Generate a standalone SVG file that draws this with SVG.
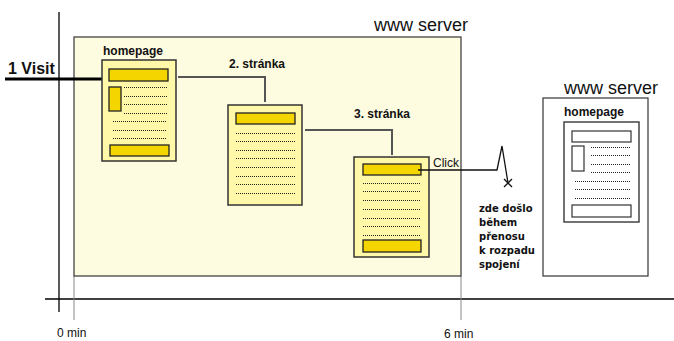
<svg xmlns="http://www.w3.org/2000/svg" width="674" height="341" viewBox="0 0 674 341">
<defs>
<style>
.ax{stroke:#000;stroke-width:1.3;fill:none}
.guide{stroke:#888;stroke-width:1;fill:none}
.doc{fill:#fff8a8;stroke:#333;stroke-width:1.5}
.bar{fill:#f5d500;stroke:#222;stroke-width:1.3}
.wdoc{fill:#fff;stroke:#444;stroke-width:1.5}
.wbar{fill:#fff;stroke:#333;stroke-width:1.2}
.dl{stroke:#222;stroke-width:1;stroke-dasharray:1 1;fill:none}
.conn{stroke:#555;stroke-width:2;fill:none}
.b{font-family:"Liberation Sans",Arial,sans-serif;font-weight:bold;fill:#111}
.r{font-family:"Liberation Sans",Arial,sans-serif;fill:#111}
.t{font-family:"DejaVu Sans",Verdana,sans-serif;font-weight:bold;fill:#111;font-size:10px}
</style>
</defs>
<rect width="674" height="341" fill="#fff"/>

<g id="axes">
<line class="ax" x1="59" y1="12" x2="59" y2="312"/>
<line class="ax" x1="45" y1="299" x2="674" y2="299"/>
<line class="guide" x1="74" y1="276" x2="74" y2="320"/>
<line class="guide" x1="461" y1="276" x2="461" y2="320"/>
<text class="r" x="57" y="337" font-size="12">0 min</text>
<text class="r" x="444" y="338" font-size="12">6 min</text>
</g>

<g id="server1">
<rect x="74" y="37" width="387" height="239" fill="#fdfbe0" stroke="#444" stroke-width="1.3"/>
<text class="r" x="468" y="31" font-size="18" text-anchor="end">www server</text>
</g>

<g id="visit">
<text class="b" x="8" y="74" font-size="16">1 Visit</text>
<line x1="5" y1="79" x2="102" y2="79" stroke="#000" stroke-width="3"/>
</g>

<g id="homepage1">
<text class="b" x="103" y="55" font-size="12">homepage</text>
<rect class="doc" x="102" y="60" width="74" height="101"/>
<rect class="bar" x="109" y="69" width="59" height="12"/>
<rect class="bar" x="109" y="87" width="12" height="24"/>
<line class="dl" x1="124" y1="87.5" x2="167" y2="87.5"/>
<line class="dl" x1="124" y1="96.5" x2="167" y2="96.5"/>
<line class="dl" x1="124" y1="104.5" x2="167" y2="104.5"/>
<line class="dl" x1="124" y1="113.5" x2="167" y2="113.5"/>
<line class="dl" x1="113" y1="121.5" x2="167" y2="121.5"/>
<line class="dl" x1="113" y1="130.5" x2="167" y2="130.5"/>
<line class="dl" x1="113" y1="138.5" x2="167" y2="138.5"/>
<rect class="bar" x="110" y="145" width="59" height="11"/>
</g>

<g id="page2">
<text class="b" x="229" y="68" font-size="12">2. stránka</text>
<rect class="doc" x="228" y="105" width="74" height="100"/>
<rect class="bar" x="236" y="113" width="59" height="11"/>
<line class="dl" x1="236" y1="133.5" x2="295" y2="133.5"/>
<line class="dl" x1="236" y1="141.5" x2="295" y2="141.5"/>
<line class="dl" x1="236" y1="150.5" x2="295" y2="150.5"/>
<line class="dl" x1="236" y1="158.5" x2="295" y2="158.5"/>
<line class="dl" x1="236" y1="167.5" x2="295" y2="167.5"/>
<line class="dl" x1="236" y1="176.5" x2="295" y2="176.5"/>
<line class="dl" x1="236" y1="184.5" x2="295" y2="184.5"/>
<line class="dl" x1="236" y1="193.5" x2="295" y2="193.5"/>
</g>

<g id="page3">
<text class="b" x="354" y="118" font-size="12">3. stránka</text>
<rect class="doc" x="354" y="157" width="75" height="100"/>
<rect class="bar" x="363" y="164" width="58" height="11"/>
<line class="dl" x1="363" y1="183.5" x2="421" y2="183.5"/>
<line class="dl" x1="363" y1="191.5" x2="421" y2="191.5"/>
<line class="dl" x1="363" y1="200.5" x2="421" y2="200.5"/>
<line class="dl" x1="363" y1="209.5" x2="421" y2="209.5"/>
<line class="dl" x1="363" y1="218.5" x2="421" y2="218.5"/>
<line class="dl" x1="363" y1="226.5" x2="421" y2="226.5"/>
<line class="dl" x1="363" y1="235.5" x2="421" y2="235.5"/>
<rect class="bar" x="363" y="240" width="58" height="12"/>
</g>

<g id="connectors">
<polyline class="conn" points="178,77 265,77 265,102"/>
<polyline class="conn" points="305,130 392,130 392,155"/>
<polyline points="418,170 497,170 502,146 508,183" fill="none" stroke="#111" stroke-width="1.3"/>
<path d="M504,179 L512,187 M512,179 L504,187" stroke="#111" stroke-width="1.3" fill="none"/>
<text class="r" x="433" y="167" font-size="12">Click</text>
</g>

<g id="note">
<text class="t" x="479" y="212">zde došlo</text>
<text class="t" x="479" y="226">během</text>
<text class="t" x="479" y="240">přenosu</text>
<text class="t" x="479" y="254">k rozpadu</text>
<text class="t" x="479" y="268">spojení</text>
</g>

<g id="server2">
<rect x="543" y="98" width="105" height="178" fill="#fff" stroke="#444" stroke-width="1.3"/>
<text class="r" x="658" y="94" font-size="18" text-anchor="end">www server</text>
</g>

<g id="homepage2">
<text class="b" x="564" y="116" font-size="12">homepage</text>
<rect class="wdoc" x="564" y="122" width="75" height="100"/>
<rect class="wbar" x="572" y="131" width="59" height="11"/>
<rect class="wbar" x="572" y="146" width="12" height="25"/>
<line class="dl" x1="591" y1="147.5" x2="630" y2="147.5"/>
<line class="dl" x1="591" y1="155.5" x2="630" y2="155.5"/>
<line class="dl" x1="591" y1="164.5" x2="630" y2="164.5"/>
<line class="dl" x1="591" y1="172.5" x2="630" y2="172.5"/>
<line class="dl" x1="575" y1="181.5" x2="630" y2="181.5"/>
<line class="dl" x1="575" y1="189.5" x2="630" y2="189.5"/>
<line class="dl" x1="575" y1="198.5" x2="630" y2="198.5"/>
<rect class="wbar" x="572" y="205" width="59" height="12"/>
</g>
</svg>
